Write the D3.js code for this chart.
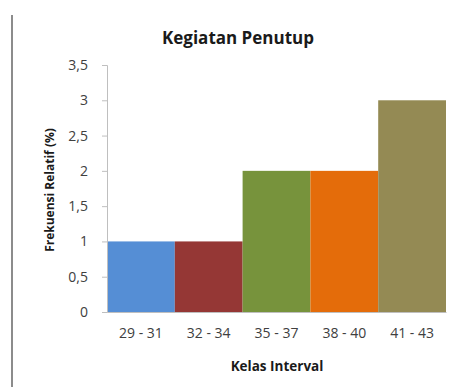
<!DOCTYPE html>
<html>
<head>
<meta charset="utf-8">
<script src="https://cdn.jsdelivr.net/npm/d3@7"></script>
<style>
  body { margin: 0; background: #fff; }
  text { font-family: "Open Sans", Lato, sans-serif; }
</style>
</head>
<body>
<div id="chart"></div>
<script>
// data
const categories = ["29 - 31", "32 - 34", "35 - 37", "38 - 40", "41 - 43"];
const values = [1, 1, 2, 2, 3];
const barColors = ["#558ed5", "#953735", "#77933c", "#e46c0a", "#948a54"];
const yTicks = [0, 0.5, 1, 1.5, 2, 2.5, 3, 3.5];

const W = 454, H = 387;
const margin = { top: 65, left: 107, right: 8, bottom: 75 };

const svg = d3.select("#chart").append("svg")
  .attr("width", W).attr("height", H);

// gray frame line on the left edge
svg.append("line")
  .attr("x1", 12).attr("x2", 12).attr("y1", 15).attr("y2", H)
  .attr("stroke", "#8c8c8c").attr("stroke-width", 2);

const x = d3.scaleBand().domain(categories)
  .range([margin.left, W - margin.right]).padding(0);
const y = d3.scaleLinear().domain([0, 3.5])
  .range([H - margin.bottom, margin.top]);

// bars
svg.append("g").selectAll("rect")
  .data(values)
  .enter().append("rect")
    .attr("x", (d, i) => x(categories[i]))
    .attr("y", d => y(d))
    .attr("width", x.bandwidth())
    .attr("height", d => y(0) - y(d))
    .attr("fill", (d, i) => barColors[i]);

// y axis
const yAxis = svg.append("g")
  .attr("transform", "translate(" + margin.left + ",0)")
  .call(d3.axisLeft(y).tickValues(yTicks).tickSize(5).tickPadding(14)
    .tickFormat(d => String(d).replace(".", ",")));
yAxis.select(".domain").attr("stroke", "#bfbfbf");
yAxis.selectAll(".tick line").attr("stroke", "#bfbfbf");
yAxis.selectAll(".tick text").attr("fill", "#404040").style("font-size", "14px");

// x axis
const xAxis = svg.append("g")
  .attr("transform", "translate(0," + y(0) + ")")
  .call(d3.axisBottom(x).tickSize(0).tickPadding(16));
xAxis.select(".domain").attr("stroke", "#bfbfbf");
xAxis.selectAll(".tick text").attr("fill", "#404040").style("font-size", "14px");

// title
svg.append("text")
  .attr("x", 238).attr("y", 44)
  .attr("text-anchor", "middle")
  .style("font-size", "17px").style("font-weight", "bold")
  .attr("fill", "#1a1a1a")
  .text("Kegiatan Penutup");

// axis titles
svg.append("text")
  .attr("x", 277).attr("y", 371)
  .attr("text-anchor", "middle")
  .style("font-size", "13.5px").style("font-weight", "bold")
  .attr("fill", "#1a1a1a")
  .text("Kelas Interval");

svg.append("text")
  .attr("transform", "translate(54,190) rotate(-90)")
  .attr("text-anchor", "middle")
  .style("font-size", "12px").style("font-weight", "bold")
  .attr("fill", "#1a1a1a")
  .text("Frekuensi Relatif (%)");
</script>
</body>
</html>
